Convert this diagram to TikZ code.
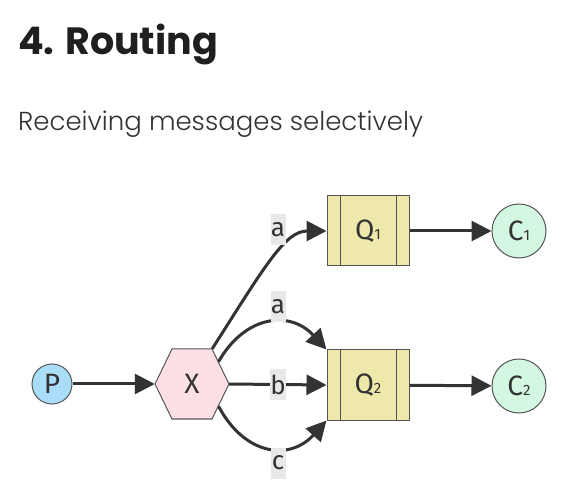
\documentclass[tikz,border=0pt]{standalone}
\usepackage{fontspec}
\setmainfont{Fira Sans}
\newfontfamily\titlefont{Poppins}
\newfontfamily\subfont{Poppins Light}
\usetikzlibrary{arrows.meta,calc}
\definecolor{ink}{HTML}{333333}
\definecolor{pfill}{HTML}{A9DDF8}
\definecolor{xfill}{HTML}{FCE0E6}
\definecolor{qfill}{HTML}{EEE8AA}
\definecolor{cfill}{HTML}{D4F7E1}
\definecolor{lblfill}{HTML}{E8E8E8}
\definecolor{bord}{HTML}{555555}
\tikzset{
  arr/.style={draw=ink,line width=3pt,-{Triangle[length=20pt,width=20pt]}},
  pnode/.style={circle,draw=bord,line width=1pt,fill=pfill,minimum size=40pt,inner sep=0pt,font=\fontsize{28}{28}\selectfont,text=ink},
  cnode/.style={circle,draw=bord,line width=1pt,fill=cfill,minimum size=54pt,inner sep=0pt,font=\fontsize{28}{28}\selectfont,text=ink},
  qnode/.style={rectangle,draw=bord,line width=1pt,fill=qfill,minimum width=82pt,minimum height=70pt,inner sep=0pt,font=\fontsize{28}{28}\selectfont,text=ink},
  xnode/.style={rectangle,minimum width=74pt,minimum height=70pt,inner sep=0pt,font=\fontsize{28}{28}\selectfont,text=ink},
  lbl/.style={fill=lblfill,minimum width=15pt,minimum height=31pt,inner sep=0pt,font=\fontsize{26}{26}\selectfont,text=ink},
}
\newcommand{\sbs}[1]{{\fontsize{15}{15}\selectfont #1}}
\begin{document}
\begin{tikzpicture}[x=1pt,y=-1pt]
\useasboundingbox (0,0) rectangle (566,484);
\node[anchor=base west,inner sep=0pt,font=\titlefont\bfseries\fontsize{38}{38}\selectfont,text=black!88] (title) at (18,55) {4. Routing};
\node[anchor=base west,inner sep=0pt,font=\subfont\fontsize{26}{26}\selectfont,text=ink] (sub) at (18,131) {Receiving messages selectively};

\coordinate (Xc0) at (192,384);
\draw[draw=bord,line width=1pt,fill=xfill] ($(Xc0)+(-37,0)$) -- ($(Xc0)+(-20,-35)$) -- ($(Xc0)+(20,-35)$) -- ($(Xc0)+(37,0)$) -- ($(Xc0)+(20,35)$) -- ($(Xc0)+(-20,35)$) -- cycle;
\node[pnode] (P) at (52,384) {P};
\node[xnode] (X) at (Xc0) {X};
\coordinate (Xne) at ([xshift=-17pt]X.north east);
\coordinate (Xse) at ([xshift=-17pt]X.south east);
\coordinate (Xa) at ($(Xne)!0.37!(X.east)$);
\coordinate (Xc) at ($(Xse)!0.37!(X.east)$);

\node[qnode] (Q1) at (368,231) {Q\sbs{1}};
\node[qnode] (Q2) at (368,385) {Q\sbs{2}};
\foreach \q in {Q1,Q2}{
  \draw[bord,line width=1pt] ([xshift=14pt]\q.north west) -- ([xshift=14pt]\q.south west);
  \draw[bord,line width=1pt] ([xshift=-13pt]\q.north east) -- ([xshift=-13pt]\q.south east);
}
\node[cnode] (C1) at (519,231) {C\sbs{1}};
\node[cnode] (C2) at (519,386) {C\sbs{2}};

\draw[arr] (P) -- (X.west);
\draw[arr] (Xne) .. controls (265,266) and (285,231) .. (Q1.west);
\draw[arr] (Xa) .. controls (245,315) and (290,310) .. (Q2.north west);
\draw[arr] (X.east) -- (Q2.west);
\draw[arr] (Xc) .. controls (245,456) and (290,461) .. (Q2.south west);
\draw[arr] (Q1) -- (C1);
\draw[arr] (Q2) -- (C2);

\node[lbl] (la1) at (278,230) {a};
\node[lbl] (la2) at (278,307) {a};
\node[lbl] (lb) at (278,385) {b};
\node[lbl] (lc) at (278,463) {c};
\end{tikzpicture}
\end{document}
